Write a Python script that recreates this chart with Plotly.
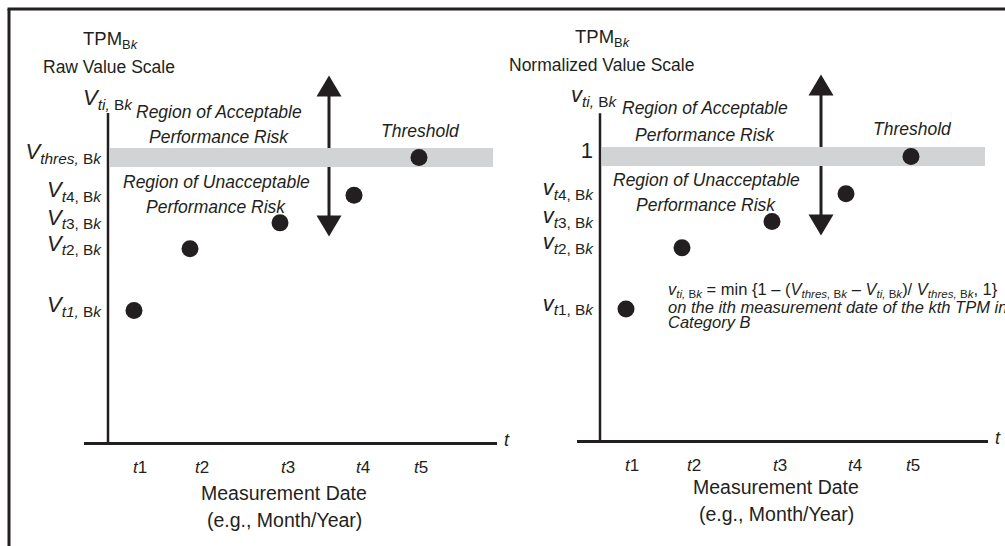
import plotly.graph_objects as go

# ---------------- data ----------------
periods = ["t1", "t2", "t3", "t4", "t5"]
measure_dates = [26, 82, 172, 246, 311]          # x position of each measurement
period_ticks = [32, 94, 180, 255, 313]           # tick label positions on the time axis
raw_values = [40.0, 58.7, 66.6, 75.0, 86.5]      # TPM raw values V_ti,Bk
threshold_raw = 86.5                             # V_thres,Bk
norm_values = [0.462, 0.678, 0.771, 0.869, 1.0]  # normalized values v_ti,Bk
threshold_norm = 1.0

raw_tick_text = ["<i>V</i><sub><i>t1,</i> B<i>k</i></sub>",
                 "<i>V</i><sub><i>t</i>2, B<i>k</i></sub>",
                 "<i>V</i><sub><i>t</i>3, B<i>k</i></sub>",
                 "<i>V</i><sub><i>t</i>4, B<i>k</i></sub>",
                 "<i>V</i><sub><i>thres,</i> B<i>k</i></sub>"]
norm_tick_text = ["<i>v</i><sub><i>t</i>1, B<i>k</i></sub>",
                  "<i>v</i><sub><i>t</i>2, B<i>k</i></sub>",
                  "<i>v</i><sub><i>t</i>3, B<i>k</i></sub>",
                  "<i>v</i><sub><i>t</i>4, B<i>k</i></sub>",
                  "1"]
period_tick_text = ["<i>t</i>1", "<i>t</i>2", "<i>t</i>3", "<i>t</i>4", "<i>t</i>5"]

# ---------------- style ----------------
W, H = 1005, 546
INK = "#231f20"
BAND = "#d1d3d4"
FONT = "Liberation Sans, Arial, sans-serif"
arrow_x = 221


def px(p):  # horizontal pixel -> paper
    return p / W


def py(p):  # vertical pixel -> paper
    return 1 - p / H


fig = go.Figure()

panels = [
    dict(xa="x", ya="y", vals=raw_values, thr=threshold_raw, ticks=raw_tick_text,
         xdom=[84, 497], ydom=[60, 442], yaxis_px=108, yrange=[0, 116.1], ytop=100,
         title2="Raw Value Scale"),
    dict(xa="x2", ya="y2", vals=norm_values, thr=threshold_norm, ticks=norm_tick_text,
         xdom=[577, 988], ydom=[60, 440], yaxis_px=600, yrange=[0, 1.3404], ytop=1.153,
         title2="Normalized Value Scale"),
]

shapes = []
annotations = []
for i, p in enumerate(panels):
    sfx = "" if i == 0 else "2"
    xmin = -(p["yaxis_px"] - p["xdom"][0])
    xmax = xmin + (p["xdom"][1] - p["xdom"][0])
    fig.add_trace(go.Scatter(
        x=measure_dates, y=p["vals"], mode="markers",
        marker=dict(size=17, color=INK), xaxis=p["xa"], yaxis=p["ya"],
        showlegend=False, hoverinfo="skip"))
    tickvals = list(p["vals"][:4]) + [p["thr"]]
    fig.update_layout(**{
        "xaxis" + sfx: dict(
            domain=[px(p["xdom"][0]), px(p["xdom"][1])], range=[xmin, xmax],
            anchor="y" + sfx, showline=True, linewidth=2.5, linecolor=INK,
            showgrid=False, zeroline=False, ticks="",
            tickvals=period_ticks, ticktext=period_tick_text,
            tickfont=dict(family=FONT, size=17, color=INK),
            ticklabelstandoff=8, fixedrange=True),
        "yaxis" + sfx: dict(
            domain=[py(p["ydom"][1]), py(p["ydom"][0])], range=p["yrange"],
            anchor="free", position=px(p["yaxis_px"]),
            showline=False, showgrid=False, zeroline=False, ticks="",
            tickvals=tickvals, ticktext=p["ticks"],
            tickfont=dict(family=FONT, size=22, color=INK),
            ticklabelstandoff=7, ticklabelshift=-6, fixedrange=True),
    })
    # value axis line (stops below the arrows' top)
    shapes.append(dict(type="line", xref=p["xa"], yref=p["ya"], x0=0, x1=0,
                       y0=0, y1=p["ytop"], line=dict(color=INK, width=2.5),
                       layer="above"))
    # arrow shaft (drawn first so the band covers it)
    shapes.append(dict(type="line", xref=p["xa"], yref=p["ya"], ysizemode="pixel",
                       yanchor=p["thr"], x0=arrow_x, x1=arrow_x, y0=62, y1=-59,
                       line=dict(color=INK, width=3), layer="below"))
    # threshold band
    shapes.append(dict(type="rect", xref=p["xa"], yref=p["ya"], ysizemode="pixel",
                       yanchor=p["thr"], x0=2, x1=385, y0=-9.5, y1=9.5,
                       fillcolor=BAND, line=dict(width=0), layer="below"))
    # arrow heads
    shapes.append(dict(type="path", xref=p["xa"], yref=p["ya"], xsizemode="pixel",
                       ysizemode="pixel", xanchor=arrow_x, yanchor=p["thr"],
                       path="M -12.5 61 L 12.5 61 L 0 82 Z",
                       fillcolor=INK, line=dict(width=0), layer="above"))
    shapes.append(dict(type="path", xref=p["xa"], yref=p["ya"], xsizemode="pixel",
                       ysizemode="pixel", xanchor=arrow_x, yanchor=p["thr"],
                       path="M -12.5 -58 L 12.5 -58 L 0 -79 Z",
                       fillcolor=INK, line=dict(width=0), layer="above"))

    off = 0 if i == 0 else 492
    dy = 0 if i == 0 else -2

    def ann(text, xp, yp, size, xanchor="center", italic=False):
        annotations.append(dict(
            text=("<i>%s</i>" % text) if italic else text,
            xref="paper", yref="paper", x=px(xp), y=py(yp),
            xanchor=xanchor, yanchor="middle", showarrow=False,
            font=dict(family=FONT, size=size, color=INK)))

    ann("TPM<sub>B<i>k</i></sub>", 111 + off, 40 + dy, 18.5)
    ann(p["title2"], 109 + off, 67 + dy, 17.5)
    if i == 0:
        ann("<i>V</i><sub><i>ti,</i> B<i>k</i></sub>", 108, 99, 22)
    else:
        ann("<i>v</i><sub><i>ti,</i> B<i>k</i></sub>", 594, 96, 22)
    ra = 219 if i == 0 else 705
    ru = 216 if i == 0 else 706
    ann("Region of Acceptable", ra, 112 + (0 if i == 0 else -4), 17.5, italic=True)
    ann("Performance Risk", ra, 137 + (0 if i == 0 else -2), 17.5, italic=True)
    ann("Region of Unacceptable", ru, 182 + dy, 17.5, italic=True)
    ann("Performance Risk", ru, 207 + dy, 17.5, italic=True)
    ann("Threshold", 420 + off, 131 + dy, 17.5, italic=True)
    ann("<i>t</i>", 502 + off - (0 if i == 0 else 1), 440 + dy, 18, xanchor="left")
    ann("Measurement Date", 284 + off, 493 + (0 if i == 0 else -6), 19.5)
    ann("(e.g., Month/Year)", 284 + off, 520 + (0 if i == 0 else -6), 19.5)

# formula text in the normalized panel
formula_lines = [
    "<i>v</i><sub><i>ti,</i> B<i>k</i></sub> = min {1 \u2013 (<i>V</i><sub><i>thres,</i> B<i>k</i></sub>"
    " \u2013 <i>V</i><sub><i>ti,</i> B<i>k</i></sub>)/ <i>V</i><sub><i>thres,</i> B<i>k</i></sub>, 1}",
    "<i>on the ith measurement date of the kth TPM in</i>",
    "<i>Category B</i>",
]
for txt, yp in zip(formula_lines, [290, 307, 322]):
    annotations.append(dict(text=txt, xref="paper", yref="paper", x=px(666), y=py(yp),
                            xanchor="left", yanchor="middle", showarrow=False,
                            font=dict(family=FONT, size=16.5, color=INK)))

# outer frame (left and top edges)
shapes.append(dict(type="line", xref="paper", yref="paper", x0=px(9), x1=px(9),
                   y0=0, y1=py(9), line=dict(color=INK, width=3)))
shapes.append(dict(type="line", xref="paper", yref="paper", x0=px(7.5), x1=1,
                   y0=py(9), y1=py(9), line=dict(color=INK, width=3)))

fig.update_layout(width=W, height=H, margin=dict(l=0, r=0, t=0, b=0),
                  paper_bgcolor="white", plot_bgcolor="white",
                  shapes=shapes, annotations=annotations, showlegend=False)

fig.write_html("out.html", include_plotlyjs=True, config={"displayModeBar": False})
